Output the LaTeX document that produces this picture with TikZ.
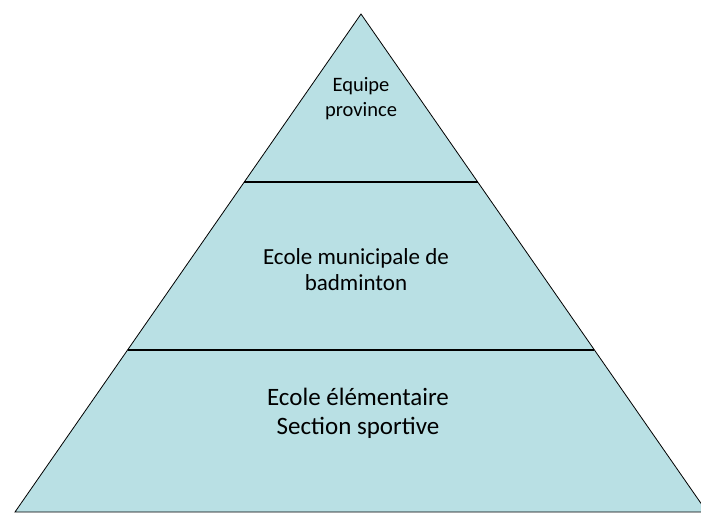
\documentclass[tikz,border=0pt]{standalone}
\usepackage{fontspec}
\setmainfont{Carlito}
\usetikzlibrary{calc}
\definecolor{pyrfill}{RGB}{185,224,228}
\tikzset{
  outline/.style={draw=black, line width=0.8pt, fill=pyrfill},
  divider/.style={draw=black, line width=1.8pt},
  lbl/.style={anchor=base, inner sep=0pt, text=black}
}
\newcommand{\twolines}[2]{\begin{tabular}[t]{@{}c@{}}#1\\#2\end{tabular}}
\begin{document}
\begin{tikzpicture}[x=1pt,y=-1pt]
\useasboundingbox (0,0) rectangle (701,512);
\clip (0,0) rectangle (701,512);
\coordinate (apex) at (361,14);
\coordinate (bl) at (15,512);
\coordinate (br) at (707,512);
\path[outline] (apex) -- (bl) -- (br) -- cycle;
\coordinate (l1) at ($(apex)!0.3373!(bl)$);
\coordinate (r1) at ($(apex)!0.3373!(br)$);
\coordinate (l2) at ($(apex)!0.6747!(bl)$);
\coordinate (r2) at ($(apex)!0.6747!(br)$);
\draw[divider] (l1) -- (r1);
\draw[divider] (l2) -- (r2);
\node[lbl, font=\fontsize{20.5}{25.5}\selectfont] (top) at (361,91) {\twolines{Equipe}{province}};
\node[lbl, font=\fontsize{23}{26.5}\selectfont] (mid) at (356,264) {\twolines{Ecole municipale de}{badminton}};
\node[lbl, font=\fontsize{25}{29.5}\selectfont] (bot) at (358,405) {\twolines{Ecole élémentaire}{Section sportive}};
\end{tikzpicture}
\end{document}
